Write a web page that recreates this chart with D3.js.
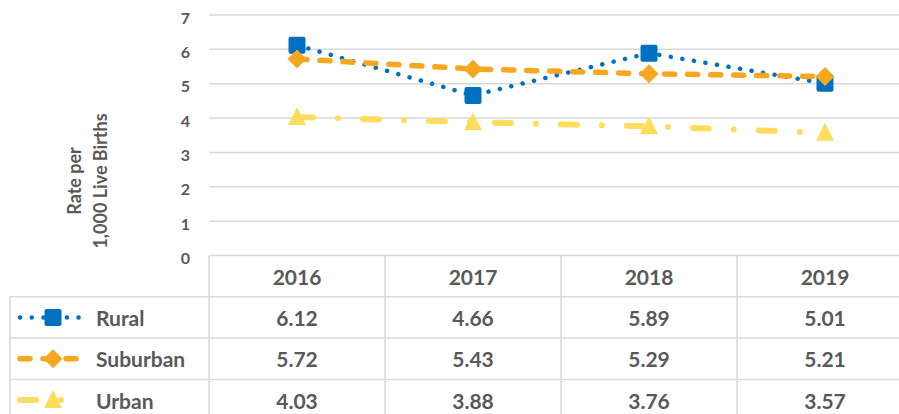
<!DOCTYPE html>
<html>
<head>
<meta charset="utf-8">
<script src="https://cdn.jsdelivr.net/npm/d3@7"></script>
<style>
  html, body { margin: 0; padding: 0; background: #fff; }
  svg text { font-family: Lato, "Open Sans", sans-serif; font-weight: bold; fill: #595959; }
</style>
</head>
<body>
<div id="chart"></div>
<script>
var years = ["2016", "2017", "2018", "2019"]
var seriesNames = ["Rural", "Suburban", "Urban"]
var rural = [6.12, 4.66, 5.89, 5.01]
var suburban = [5.72, 5.43, 5.29, 5.21]
var urban = [4.03, 3.88, 3.76, 3.57]
var yTicks = [0, 1, 2, 3, 4, 5, 6, 7]

var colors = {}
colors.Rural = "#0070c0"
colors.Suburban = "#f5a81f"
colors.Urban = "#ffdd5c"
var gridColor = "#d9d9d9"

var width = 899, height = 414

// plot and table geometry (plotTop: "top" is taken by window.top)
var plotLeft = 209, plotRight = 913, plotTop = 15, zero = 255.5
var rowH = 41.3
var tableLeft = 10

var svg = d3.select("#chart").append("svg")
  .attr("width", width)
  .attr("height", height)

var x = d3.scaleBand().domain(years).range([plotLeft, plotRight])
var y = d3.scaleLinear().domain([0, 7]).range([zero, plotTop])

var series = [
  {name: "Rural", values: rural, dash: "0.1 11.6", width: 4.5, marker: "square"},
  {name: "Suburban", values: suburban, dash: "10 13", width: 5.5, marker: "diamond"},
  {name: "Urban", values: urban, dash: "16 25 0 25", width: 6, marker: "triangle"}
]

// gridlines
svg.append("g").selectAll("line")
  .data(yTicks.filter(function(d) { return d > 0 }))
  .enter().append("line")
  .attr("x1", plotLeft).attr("x2", width)
  .attr("y1", function(d) { return y(d) }).attr("y2", function(d) { return y(d) })
  .attr("stroke", gridColor).attr("stroke-width", 1.5)

// y tick labels
svg.append("g").selectAll("text")
  .data(yTicks)
  .enter().append("text")
  .attr("x", 190)
  .attr("y", function(d) { return y(d) + 2 })
  .attr("text-anchor", "end")
  .attr("dominant-baseline", "central")
  .style("font-size", "16px")
  .text(function(d) { return d })

// y axis title
var title = svg.append("text")
  .attr("transform", "translate(88,181) rotate(-90)")
  .attr("text-anchor", "middle")
  .style("font-size", "18px")
title.append("tspan").attr("x", 0).attr("dy", "-0.4em").text("Rate per")
title.append("tspan").attr("x", 0).attr("dy", "1.45em").text("1,000 Live Births")

// data table
var table = svg.append("g")
var rowTop = function(i) { return zero + i * rowH }

// horizontal lines
table.append("line")
  .attr("x1", plotLeft).attr("x2", width).attr("y1", zero).attr("y2", zero)
  .attr("stroke", gridColor).attr("stroke-width", 1.5)
d3.range(1, 4).forEach(function(i) {
  table.append("line")
    .attr("x1", tableLeft).attr("x2", width)
    .attr("y1", rowTop(i)).attr("y2", rowTop(i))
    .attr("stroke", gridColor).attr("stroke-width", 1.5)
})
// vertical lines
table.append("line")
  .attr("x1", tableLeft).attr("x2", tableLeft).attr("y1", rowTop(1)).attr("y2", height)
  .attr("stroke", gridColor).attr("stroke-width", 1.5)
years.forEach(function(yr) {
  table.append("line")
    .attr("x1", x(yr)).attr("x2", x(yr)).attr("y1", zero).attr("y2", height)
    .attr("stroke", gridColor).attr("stroke-width", 1.5)
})

// header years
table.selectAll("text.year")
  .data(years)
  .enter().append("text")
  .attr("class", "year")
  .attr("x", function(d) { return x(d) + x.bandwidth() / 2 })
  .attr("y", rowTop(0) + rowH / 2)
  .attr("text-anchor", "middle")
  .attr("dominant-baseline", "central")
  .style("font-size", "21px")
  .text(function(d) { return d })

// marker shapes
function markerPath(type) {
  if (type === "square") return "M-6.5,-8.5 h13 a2,2 0 0 1 2,2 v13 a2,2 0 0 1 -2,2 h-13 a2,2 0 0 1 -2,-2 v-13 a2,2 0 0 1 2,-2 z"
  if (type === "diamond") return "M0,-9.5 L9.5,0 L0,9.5 L-9.5,0 Z"
  return "M0,-10 L9,8 L-9,8 Z"
}

// value rows + legend keys
series.forEach(function(s, i) {
  var cy = rowTop(i + 1) + rowH / 2
  var key = table.append("g")
  key.append("line")
    .attr("x1", 20).attr("x2", 84).attr("y1", cy).attr("y2", cy)
    .attr("stroke", colors[s.name]).attr("stroke-width", s.width)
    .attr("stroke-linecap", "round").attr("stroke-dasharray", s.dash)
  key.append("path")
    .attr("d", markerPath(s.marker))
    .attr("transform", "translate(53," + cy + ")")
    .attr("fill", colors[s.name])
  table.append("text")
    .attr("x", 96).attr("y", cy)
    .attr("dominant-baseline", "central")
    .style("font-size", "21px")
    .text(s.name)

  table.selectAll("text.v" + i)
    .data(s.values)
    .enter().append("text")
    .attr("class", "v" + i)
    .attr("x", function(d, j) { return x(years[j]) + x.bandwidth() / 2 })
    .attr("y", cy)
    .attr("text-anchor", "middle")
    .attr("dominant-baseline", "central")
    .style("font-size", "21px")
    .text(function(d) { return d.toFixed(2) })
})

// lines and markers
var line = d3.line()
  .x(function(d, j) { return x(years[j]) + x.bandwidth() / 2 })
  .y(function(d) { return y(d) })

series.forEach(function(s) {
  var g = svg.append("g")
  g.append("path")
    .datum(s.values)
    .attr("d", line)
    .attr("fill", "none")
    .attr("stroke", colors[s.name])
    .attr("stroke-width", s.width)
    .attr("stroke-linecap", "round")
    .attr("stroke-dasharray", s.dash)
  g.selectAll("path.m")
    .data(s.values)
    .enter().append("path")
    .attr("class", "m")
    .attr("d", markerPath(s.marker))
    .attr("transform", function(d, j) {
      return "translate(" + (x(years[j]) + x.bandwidth() / 2) + "," + y(d) + ")"
    })
    .attr("fill", colors[s.name])
})
</script>
</body>
</html>
